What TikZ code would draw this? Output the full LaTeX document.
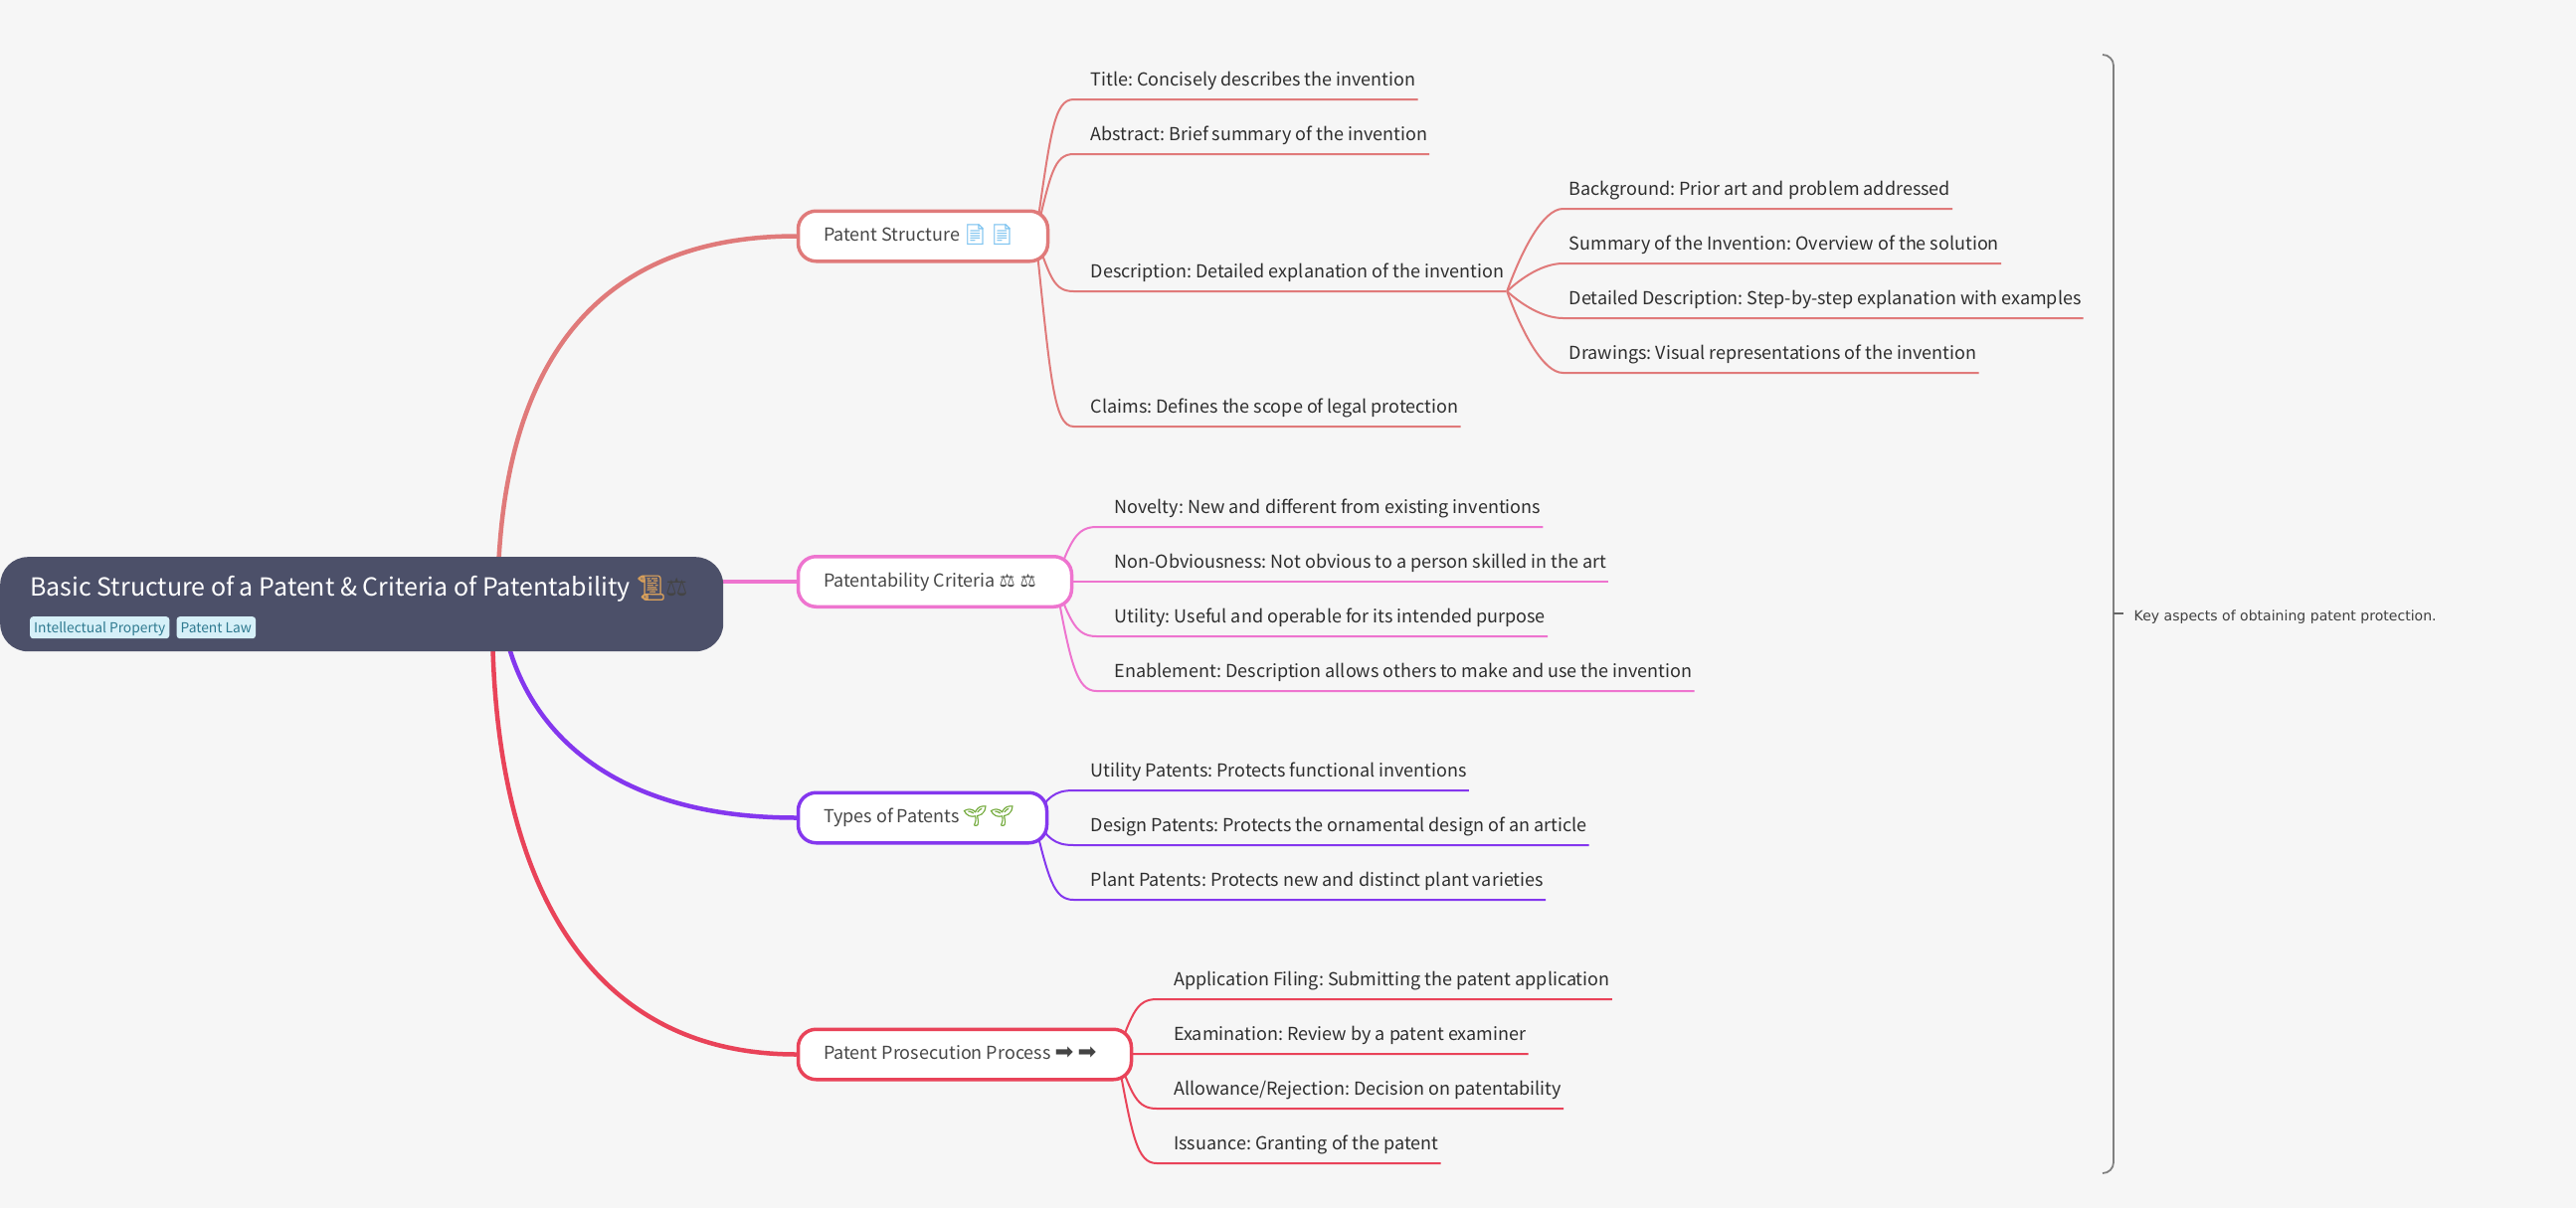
\documentclass[tikz,border=0pt]{standalone}
\usepackage{fontspec}
\setmainfont{Noto Sans CJK SC}
\newfontfamily\notefont{DejaVu Sans}
\newfontfamily\arrowfont[Scale=1.25]{DejaVu Sans}
\newfontfamily\emoji[FakeBold=1,Scale=1.12]{Noto Emoji}
\usepackage{tikz}
\usetikzlibrary{positioning,calc,backgrounds}
\usepackage{xcolor}
\definecolor{pagebg}{HTML}{F6F6F6}
\definecolor{rootbg}{HTML}{4C5069}
\definecolor{tagbg}{HTML}{D6F0F8}
\definecolor{tagtext}{HTML}{2F7A90}
\definecolor{structcol}{HTML}{E07A7A}
\definecolor{critcol}{HTML}{EE74CF}
\definecolor{typecol}{HTML}{8437EE}
\definecolor{proscol}{HTML}{E94359}
\definecolor{docblue}{HTML}{7CC3F0}
\definecolor{sprout}{HTML}{6FA836}
\definecolor{scroll}{HTML}{D9A05B}
\definecolor{iconink}{HTML}{444444}
\frenchspacing
\newcommand{\icon}[3]{\makebox[#1][l]{\textcolor{#2}{#3}}}

\begin{document}
\begin{tikzpicture}[x=1pt,y=-1pt,
        root node/.style={rectangle,rounded corners=28pt,fill=rootbg,text=white,anchor=north west,
            minimum width=727pt,minimum height=95pt,inner xsep=30pt,inner ysep=0pt,text width=667pt,align=flush left,
            text height=23pt,text depth=39pt,font=\fontsize{25}{30}\selectfont},
        tag node/.style={rectangle,rounded corners=3pt,fill=tagbg,text=tagtext,minimum height=22pt,
            inner xsep=4pt,inner ysep=0pt,text height=14pt,text depth=3pt,font=\fontsize{13.8}{17}\selectfont},
        main node/.style={rectangle,rounded corners=18pt,draw,line width=3.5pt,fill=white,text=black!72,anchor=west,
            minimum height=50.5pt,inner xsep=25.5pt,inner ysep=0pt,text height=15pt,text depth=5pt,align=flush left,
            font=\fontsize{18}{22}\selectfont},
        leaf node/.style={rectangle,anchor=south west,inner sep=0pt,text=black!82,text height=15pt,text depth=13.5pt,
            font=\fontsize{18}{22}\selectfont},
        leaf link/.style 2 args={line width=2pt,to path={
            .. controls ($(\tikztostart)!#1!(\tikztostart |- \tikztotarget.south west)+(15pt,0pt)$)
            and ([xshift=-#2-20pt]\tikztotarget.south west)
            .. ([xshift=-#2]\tikztotarget.south west) -- ([xshift=2pt]\tikztotarget.south east)}},
        branch/.style={line width=4.5pt}]

    \path[use as bounding box] (0,0) rectangle (2590,1215);

    \node[root node] (root) at (0,560) {Basic Structure of a Patent \& Criteria of Patentability \icon{30pt}{scroll}{\emoji\fontsize{22}{26}\selectfont 📜}\icon{20pt}{iconink}{\notefont ⚖}};
    \node[tag node,anchor=north west] (tag1) at (30,620) {Intellectual Property};
    \node[tag node] (tag2) [right=7pt of tag1] {Patent Law};

    \node[main node,draw=structcol,text width=200pt] (struct) at (800.75,237.5) {Patent Structure \hspace{-1.5pt}\icon{27pt}{docblue}{\emoji 📄}\icon{27pt}{docblue}{\emoji 📄}};
    \node[main node,draw=critcol,text width=224pt] (crit) at (800.75,585) {Patentability Criteria \icon{21pt}{iconink}{\notefont ⚖}\icon{21pt}{iconink}{\notefont ⚖}};
    \node[main node,draw=typecol,text width=199pt] (types) at (800.75,822.5) {Types of Patents \hspace{-1.5pt}\icon{27pt}{sprout}{\emoji 🌱}\icon{27pt}{sprout}{\emoji 🌱}};
    \node[main node,draw=proscol,text width=284pt] (pros) at (800.75,1060.5) {Patent Prosecution Process \icon{23pt}{iconink}{\arrowfont ➡}\icon{23pt}{iconink}{\arrowfont ➡}};

    \node[leaf node] (s1) at (1096.5,100) {Title: Concisely describes the invention};
    \node[leaf node] (s2) [below=55pt of s1.south west,anchor=south west] {Abstract: Brief summary of the invention};
    \node[leaf node] (s3) at (1096.5,293) {Description: Detailed explanation of the invention};
    \node[leaf node] (s4) at (1096.5,429) {Claims: Defines the scope of legal protection};

    \node[leaf node] (d1) at (1577.5,210) {Background: Prior art and problem addressed};
    \node[leaf node] (d2) [below=55pt of d1.south west,anchor=south west] {Summary of the Invention: Overview of the solution};
    \node[leaf node] (d3) [below=55pt of d2.south west,anchor=south west] {Detailed Description: Step-by-step explanation with examples};
    \node[leaf node] (d4) [below=55pt of d3.south west,anchor=south west] {Drawings: Visual representations of the invention};

    \node[leaf node] (c1) at (1120.5,530) {Novelty: New and different from existing inventions};
    \node[leaf node] (c2) [below=55pt of c1.south west,anchor=south west] {Non-Obviousness: Not obvious to a person skilled in the art};
    \node[leaf node] (c3) [below=55pt of c2.south west,anchor=south west] {Utility: Useful and operable for its intended purpose};
    \node[leaf node] (c4) [below=55pt of c3.south west,anchor=south west] {Enablement: Description allows others to make and use the invention};

    \node[leaf node] (t1) at (1096.5,795) {Utility Patents: Protects functional inventions};
    \node[leaf node] (t2) [below=55pt of t1.south west,anchor=south west] {Design Patents: Protects the ornamental design of an article};
    \node[leaf node] (t3) [below=55pt of t2.south west,anchor=south west] {Plant Patents: Protects new and distinct plant varieties};

    \node[leaf node] (p1) at (1180,1005) {Application Filing: Submitting the patent application};
    \node[leaf node] (p2) [below=55pt of p1.south west,anchor=south west] {Examination: Review by a patent examiner};
    \node[leaf node] (p3) [below=55pt of p2.south west,anchor=south west] {Allowance/Rejection: Decision on patentability};
    \node[leaf node] (p4) [below=55pt of p3.south west,anchor=south west] {Issuance: Granting of the patent};

    \node[anchor=base west,inner sep=0pt,text=black!75,font=\notefont\fontsize{14.05}{17}\selectfont] (note) at (2145.5,624) {Key aspects of obtaining patent protection.};
    \coordinate (bracetop) at (2114,55);
    \coordinate (bracebot) at (2114,1180);
    \coordinate (bracemid) at (2125,617);

    \coordinate (structo) at ([xshift=-14pt]struct.east);
    \coordinate (desco) at ([xshift=3pt]s3.south east);
    \coordinate (crito) at ([xshift=-18pt]crit.east);
    \coordinate (typeso) at ([xshift=-15pt]types.east);
    \coordinate (proso) at ([xshift=-16pt]pros.east);

    \begin{pgfonlayer}{background}
    \fill[pagebg] (0,0) rectangle (2590,1215);

    \draw[branch,structcol] ([xshift=-227pt]root.east |- root.center) .. controls (500,420) and (560,237.5) .. (struct.west);
    \draw[branch,critcol] (root.east |- crit.west) -- (crit.west);
    \draw[branch,typecol] (505,620) .. controls (520,720) and (600,822.5) .. (types.west);
    \draw[branch,proscol] (495,620) .. controls (495,900) and (600,1060.5) .. (pros.west);

    \path[structcol,leaf link={.75}{17pt}]
        (structo) edge (s1)
        (structo) edge (s2)
        (structo) edge (s3)
        (structo) edge (s4);
    \path[structcol,leaf link={.5}{6pt}]
        (desco) edge (d1)
        (desco) edge (d2)
        (desco) edge (d3)
        (desco) edge (d4);
    \path[critcol,leaf link={.75}{18pt}]
        (crito) edge (c1)
        (crito) edge (c2)
        (crito) edge (c3)
        (crito) edge (c4);
    \path[typecol,leaf link={.75}{17pt}]
        (typeso) edge (t1)
        (typeso) edge (t2)
        (typeso) edge (t3);
    \path[proscol,leaf link={.75}{17pt}]
        (proso) edge (p1)
        (proso) edge (p2)
        (proso) edge (p3)
        (proso) edge (p4);
    \end{pgfonlayer}

    \draw[black!50,line width=1.8pt,rounded corners=11pt] (bracetop) -| (bracemid |- bracebot) -- (bracebot);
    \draw[black!60,line width=1.2pt] (bracemid) -- ([xshift=10pt]bracemid);

\end{tikzpicture}
\end{document}
